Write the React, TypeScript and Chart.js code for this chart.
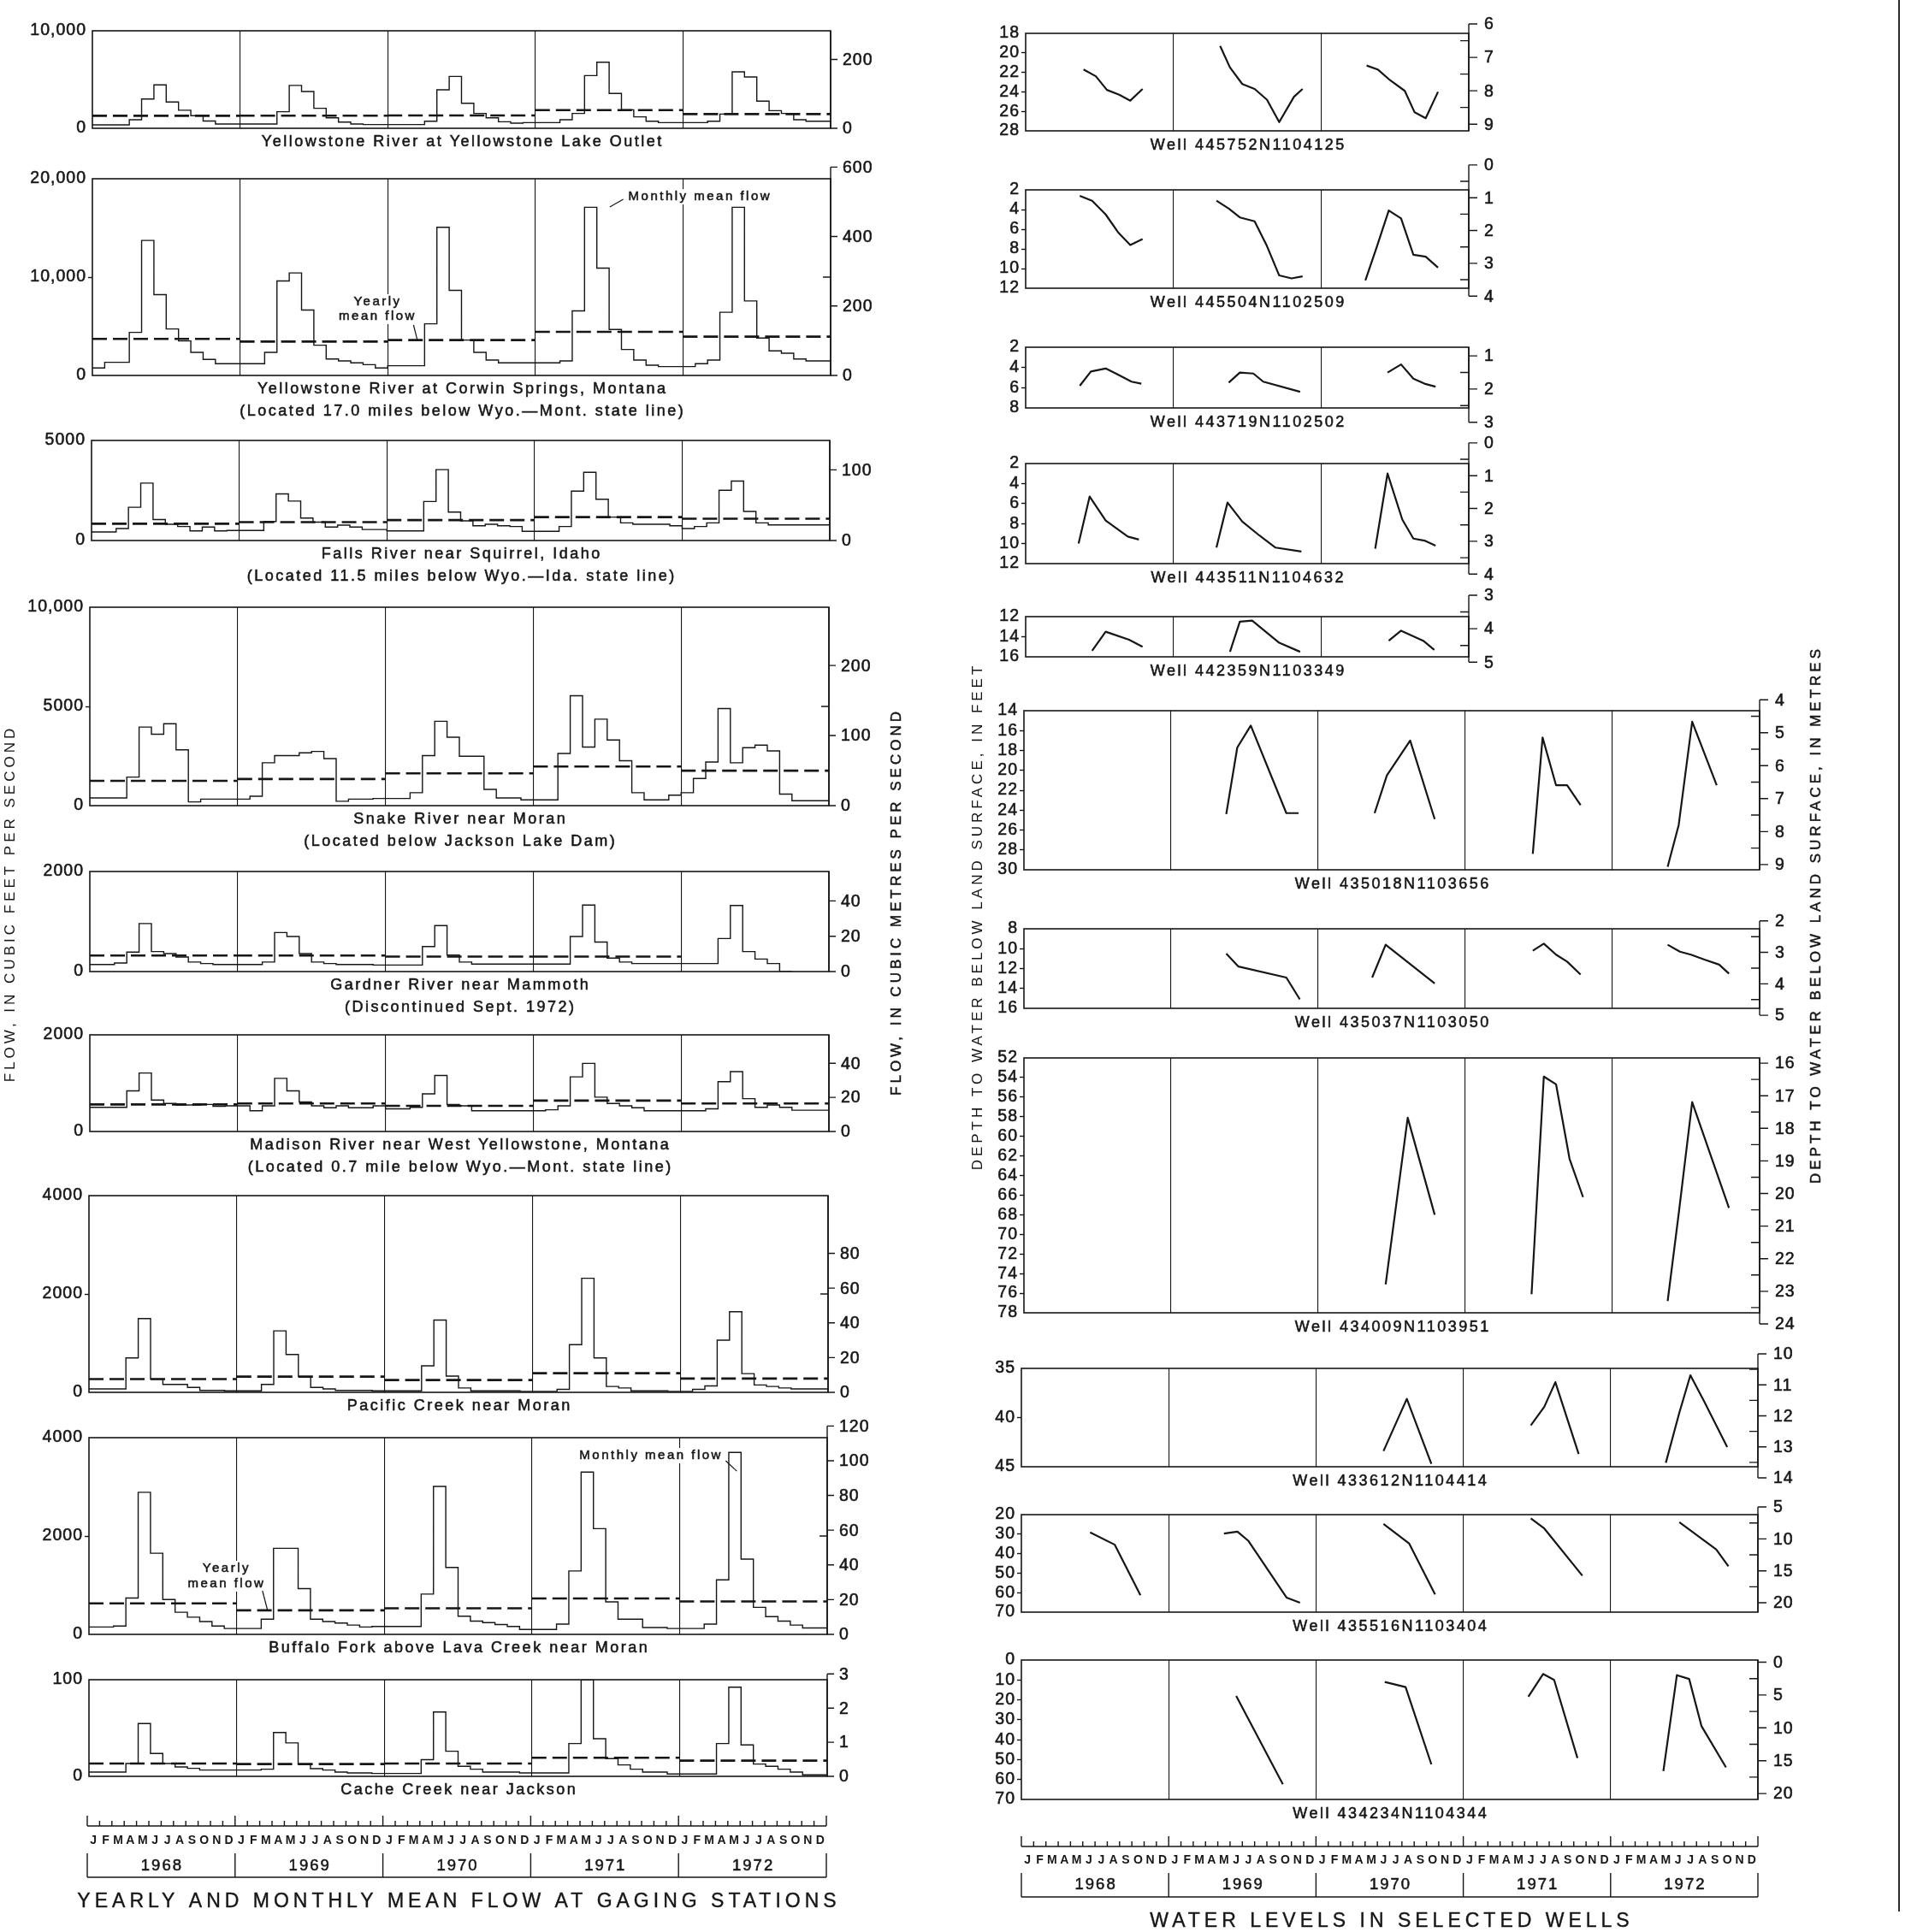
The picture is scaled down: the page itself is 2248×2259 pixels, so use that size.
import React, { useEffect, useMemo, useRef } from 'react';
import { Chart, registerables } from 'chart.js';

Chart.register(...registerables);

const FONT = "'Liberation Sans', Arial, Helvetica, sans-serif";
const NARROW = "'Liberation Sans Narrow', 'Liberation Sans', Arial, sans-serif";
const INK = '#161616';
const STROKE = 0.55;
const CFS_TO_CMS = 0.0283168;
const PAGE_W = 2248;
const PAGE_H = 2259;

Chart.defaults.font.family = FONT;
Chart.defaults.color = INK;

// ---------- axis labels ----------
const MONTH_LETTERS = ['J', 'F', 'M', 'A', 'M', 'J', 'J', 'A', 'S', 'O', 'N', 'D'];
const YEARS = ['1968', '1969', '1970', '1971', '1972'];

// ---------- gaging stations: monthly mean flow (cfs), Jan 1968 - Dec 1972 ----------
const YELLOWSTONE_LAKE_MONTHLY = [
  350, 350, 350, 350, 880, 3000, 4450, 2700, 1850, 1300, 750, 440,
  440, 440, 440, 440, 1700, 4400, 3770, 2050, 1080, 640, 440, 380,
  380, 380, 380, 380, 730, 3950, 5320, 2570, 1520, 1080, 670, 530,
  585, 585, 585, 880, 1520, 5410, 6780, 3570, 1900, 1170, 730, 585,
  585, 585, 585, 730, 1460, 5790, 5260, 2780, 1810, 1520, 880, 730,
];
const YELLOWSTONE_LAKE_YEARLY = [1280, 1300, 1320, 1870, 1460];

const CORWIN_SPRINGS_MONTHLY = [
  760, 760, 1340, 1340, 4380, 13730, 8220, 4730, 3510, 2350, 1630, 1190,
  1190, 1190, 1190, 2350, 9610, 10420, 6650, 3080, 1680, 1480, 1280, 1100,
  760, 990, 990, 990, 5250, 15070, 8650, 3600, 2350, 1570, 1280, 1280,
  1280, 1280, 1280, 1480, 6560, 17100, 10910, 4670, 2640, 1570, 1050, 900,
  900, 900, 1190, 1570, 6420, 17100, 7580, 3800, 2500, 2260, 1680, 1480,
];
const CORWIN_SPRINGS_YEARLY = [3720, 3450, 3600, 4440, 3950];

const FALLS_RIVER_MONTHLY = [
  430, 430, 430, 600, 1660, 2870, 1050, 810, 700, 480, 670, 480,
  500, 500, 500, 950, 2330, 1970, 1120, 920, 670, 770, 670, 550,
  550, 480, 480, 480, 1950, 3540, 1420, 980, 740, 810, 740, 700,
  460, 460, 460, 700, 2470, 3410, 2060, 1170, 880, 810, 810, 810,
  740, 600, 700, 880, 2510, 2970, 1450, 880, 780, 780, 780, 780,
];
const FALLS_RIVER_YEARLY = [840, 920, 1020, 1170, 1090];

const SNAKE_RIVER_MONTHLY = [
  390, 390, 390, 390, 1440, 3960, 3600, 4130, 2810, 190, 330, 330,
  330, 330, 475, 2160, 2520, 2520, 2660, 2730, 2370, 220, 330, 330,
  360, 360, 360, 650, 2520, 4250, 3450, 2490, 2490, 820, 390, 390,
  290, 290, 290, 2630, 5540, 2950, 4360, 3310, 2260, 650, 290, 290,
  530, 650, 1370, 2200, 4890, 2160, 2920, 3050, 2760, 580, 250, 250,
];
const SNAKE_RIVER_YEARLY = [1250, 1340, 1630, 1970, 1760];

const GARDNER_RIVER_MONTHLY = [
  140, 140, 140, 170, 390, 960, 400, 360, 290, 190, 160, 140,
  140, 140, 140, 190, 780, 700, 360, 190, 160, 140, 140, 140,
  130, 130, 130, 130, 500, 920, 330, 190, 150, 150, 150, 150,
  150, 150, 150, 150, 700, 1330, 590, 270, 190, 160, 160, 160,
  160, 160, 160, 160, 660, 1320, 400, 250, 160, null, null, null,
];
const GARDNER_RIVER_YEARLY = [320, 320, 300, 300, null];

const MADISON_RIVER_MONTHLY = [
  500, 500, 500, 500, 840, 1210, 650, 580, 550, 550, 560, 520,
  530, 530, 430, 530, 1100, 840, 610, 530, 490, 530, 490, 490,
  530, 470, 470, 500, 780, 1160, 560, 530, 430, 430, 430, 430,
  430, 430, 450, 530, 1130, 1410, 710, 580, 530, 490, 430, 430,
  430, 430, 430, 470, 1030, 1240, 680, 500, 550, 500, 440, 440,
];
const MADISON_RIVER_YEARLY = [560, 580, 530, 640, 580];

const PACIFIC_CREEK_MONTHLY = [
  70, 70, 70, 70, 700, 1500, 270, 160, 160, 100, 40, 40,
  30, 30, 30, 160, 1250, 770, 320, 100, 70, 40, 40, 40,
  30, 30, 30, 30, 540, 1470, 330, 90, 30, 30, 30, 30,
  20, 20, 20, 60, 970, 2320, 700, 120, 90, 30, 30, 30,
  20, 20, 60, 130, 1060, 1640, 380, 150, 120, 90, 70, 70,
];
const PACIFIC_CREEK_YEARLY = [270, 320, 250, 390, 280];

const BUFFALO_FORK_MONTHLY = [
  150, 150, 150, 170, 740, 2890, 1650, 710, 450, 350, 260, 170,
  120, 120, 120, 310, 1750, 1750, 930, 310, 260, 230, 190, 150,
  160, 160, 160, 160, 820, 3010, 1360, 370, 270, 240, 200, 160,
  100, 100, 100, 210, 1290, 3300, 2150, 660, 310, 310, 140, 140,
  120, 120, 120, 210, 1110, 3700, 1530, 550, 360, 270, 190, 130,
];
const BUFFALO_FORK_YEARLY = [630, 490, 530, 730, 670];

const CACHE_CREEK_MONTHLY = [
  4.4, 4.4, 4.4, 4.4, 13.3, 54.7, 23.7, 13.3, 9.8, 8.3, 6.5, 6.5,
  6.5, 6.5, 6.5, 7.4, 45.3, 34.6, 12.4, 8, 6.5, 4.4, 3.6, 3.6,
  3, 3, 3, 3, 17.2, 66.6, 26, 10.4, 7.4, 4.4, 4.4, 4.4,
  3.6, 3.6, 3.6, 3.6, 34, 100, 39, 18.3, 11.8, 7.4, 4.4, 4.4,
  2.4, 2.4, 2.4, 2.4, 34, 92.3, 32.5, 12.7, 10.4, 7.4, 4.4, 1.5,
];
const CACHE_CREEK_YEARLY = [13.3, 12.7, 13.3, 19.2, 16.3];

// ---------- wells: [month since Jan 1968, depth to water in feet], one list per year ----------
const WELL_445752N1104125 = [
  [[4.7, 21.7], [5.7, 22.4], [6.6, 23.8], [7.6, 24.3], [8.5, 24.9], [9.5, 23.7]],
  [[15.8, 19.3], [16.6, 21.5], [17.6, 23.2], [18.6, 23.7], [19.6, 24.8], [20.6, 27.1], [21.8, 24.5], [22.5, 23.7]],
  [[27.7, 21.3], [28.6, 21.7], [29.6, 22.8], [30.8, 23.9], [31.6, 26.1], [32.5, 26.7], [33.5, 24.0]],
];
const WELL_445504N1102509 = [
  [[4.4, 2.6], [5.4, 3.1], [6.5, 4.5], [7.5, 6.3], [8.5, 7.6], [9.5, 7.0]],
  [[15.5, 3.1], [16.5, 3.9], [17.4, 4.8], [18.6, 5.2], [19.6, 7.7], [20.6, 10.7], [21.6, 11.0], [22.5, 10.8]],
  [[27.6, 11.2], [28.5, 7.9], [29.5, 4.1], [30.5, 4.9], [31.5, 8.6], [32.5, 8.8], [33.5, 9.9]],
];
const WELL_443719N1102502 = [
  [[4.4, 5.8], [5.3, 4.4], [6.5, 4.1], [7.5, 4.7], [8.6, 5.4], [9.4, 5.6]],
  [[16.5, 5.5], [17.4, 4.5], [18.5, 4.6], [19.3, 5.4], [22.3, 6.4]],
  [[29.4, 4.5], [30.5, 3.7], [31.5, 5.1], [32.4, 5.6], [33.3, 5.9]],
];
const WELL_443511N1104632 = [
  [[4.3, 10.0], [5.2, 5.3], [6.5, 7.7], [8.3, 9.3], [9.2, 9.6]],
  [[15.5, 10.4], [16.4, 5.9], [17.6, 7.8], [19.0, 9.2], [20.3, 10.4], [22.4, 10.8]],
  [[28.4, 10.5], [29.4, 3.0], [30.6, 7.6], [31.5, 9.5], [32.4, 9.7], [33.3, 10.2]],
];
const WELL_442359N1103349 = [
  [[5.4, 15.4], [6.5, 13.5], [8.4, 14.3], [9.5, 15.0]],
  [[16.6, 15.5], [17.4, 12.5], [18.4, 12.4], [20.6, 14.6], [22.3, 15.5]],
  [[29.5, 14.4], [30.5, 13.4], [32.3, 14.4], [33.2, 15.3]],
];
const WELL_435018N1103656 = [
  [[16.5, 24.4], [17.4, 17.7], [18.5, 15.5], [21.4, 24.3], [22.4, 24.3]],
  [[28.6, 24.3], [29.6, 20.5], [31.5, 17.0], [33.5, 24.9]],
  [[41.5, 28.4], [42.3, 16.7], [43.4, 21.5], [44.3, 21.5], [45.4, 23.5]],
  [[52.5, 29.7], [53.4, 25.5], [54.5, 15.1], [56.5, 21.5]],
];
const WELL_435037N1103050 = [
  [[16.5, 10.5], [17.5, 11.8], [21.4, 12.9], [22.5, 15.1]],
  [[28.4, 12.9], [29.5, 9.6], [33.5, 13.5]],
  [[41.5, 10.2], [42.4, 9.5], [43.4, 10.6], [44.3, 11.3], [45.4, 12.6]],
  [[52.5, 9.6], [53.5, 10.3], [54.4, 10.6], [55.5, 11.1], [56.7, 11.6], [57.5, 12.5]],
];
const WELL_434009N1103951 = [
  [[29.5, 75.1], [31.3, 58.1], [33.5, 68.0]],
  [[41.4, 76.1], [42.4, 53.9], [43.4, 54.7], [44.5, 62.3], [45.6, 66.2]],
  [[52.5, 76.8], [53.4, 67.9], [54.5, 56.5], [57.5, 67.3]],
];
const WELL_433612N1104414 = [
  [[29.5, 43.4], [31.4, 38.1], [33.4, 44.7]],
  [[41.5, 40.8], [42.6, 38.9], [43.5, 36.4], [45.4, 43.7]],
  [[52.5, 44.6], [53.6, 39.5], [54.5, 35.7], [55.6, 38.3], [57.5, 43.0]],
];
const WELL_435516N1103404 = [
  [[5.6, 29.1], [7.6, 35.4], [9.7, 61.3]],
  [[16.5, 29.7], [17.6, 28.7], [18.5, 33.5], [21.6, 62.5], [22.7, 65.2]],
  [[29.5, 24.8], [31.6, 34.9], [33.7, 60.9]],
  [[41.5, 21.9], [42.6, 27.1], [45.7, 51.3]],
  [[53.6, 23.9], [56.6, 37.8], [57.6, 46.5]],
];
const WELL_434234N1104344 = [
  [[17.5, 18.0], [21.3, 62.4]],
  [[29.6, 11.0], [31.3, 13.6], [33.4, 52.4]],
  [[41.3, 18.4], [42.5, 7.0], [43.4, 10.0], [45.3, 49.2]],
  [[52.3, 55.8], [53.4, 7.6], [54.4, 9.5], [55.4, 33.1], [57.4, 53.9]],
];

// ---------- panel layout tables ----------
const STATIONS: any[] = [
  { title: ['Yellowstone River at Yellowstone Lake Outlet'], monthly: YELLOWSTONE_LAKE_MONTHLY, yearly: YELLOWSTONE_LAKE_YEARLY,
    max: 10000, leftTicks: [0, 10000], rightTicks: [0, 200], mirror: [], left: 108, right: 971, top: 36, bottom: 150 },
  { title: ['Yellowstone River at Corwin Springs, Montana', '(Located 17.0 miles below Wyo.\u2014Mont. state line)'],
    monthly: CORWIN_SPRINGS_MONTHLY, yearly: CORWIN_SPRINGS_YEARLY,
    max: 20000, leftTicks: [0, 10000, 20000], rightTicks: [0, 200, 400, 600], mirror: [10000], left: 108, right: 971, top: 209, bottom: 439,
    notes: [
      { lines: ['Monthly mean flow'], x: 49.3, y: 18170, gap: 17, from: [43.15, 17920], to: [42.05, 17130] },
      { lines: ['Yearly', 'mean flow'], x: 23.1, y: 7480, gap: 17, from: [26.1, 5130], to: [26.4, 3650] },
    ] },
  { title: ['Falls River near Squirrel, Idaho', '(Located 11.5 miles below Wyo.\u2014Ida. state line)'],
    monthly: FALLS_RIVER_MONTHLY, yearly: FALLS_RIVER_YEARLY,
    max: 5000, leftTicks: [0, 5000], rightTicks: [0, 100], mirror: [], left: 107, right: 970, top: 515, bottom: 632 },
  { title: ['Snake River near Moran', '(Located below Jackson Lake Dam)'],
    monthly: SNAKE_RIVER_MONTHLY, yearly: SNAKE_RIVER_YEARLY,
    max: 10000, leftTicks: [0, 5000, 10000], rightTicks: [0, 100, 200], mirror: [5000], left: 105, right: 969, top: 710, bottom: 942 },
  { title: ['Gardner River near Mammoth', '(Discontinued Sept. 1972)'],
    monthly: GARDNER_RIVER_MONTHLY, yearly: GARDNER_RIVER_YEARLY, dropToZero: true,
    max: 2000, leftTicks: [0, 2000], rightTicks: [0, 20, 40], mirror: [], left: 105, right: 969, top: 1019, bottom: 1136 },
  { title: ['Madison River near West Yellowstone, Montana', '(Located 0.7 mile below Wyo.\u2014Mont. state line)'],
    monthly: MADISON_RIVER_MONTHLY, yearly: MADISON_RIVER_YEARLY,
    max: 2000, leftTicks: [0, 2000], rightTicks: [0, 20, 40], mirror: [], left: 105, right: 969, top: 1210, bottom: 1323 },
  { title: ['Pacific Creek near Moran'], monthly: PACIFIC_CREEK_MONTHLY, yearly: PACIFIC_CREEK_YEARLY,
    max: 4000, leftTicks: [0, 2000, 4000], rightTicks: [0, 20, 40, 60, 80], mirror: [2000], left: 104, right: 968, top: 1398, bottom: 1628 },
  { title: ['Buffalo Fork above Lava Creek near Moran'], monthly: BUFFALO_FORK_MONTHLY, yearly: BUFFALO_FORK_YEARLY,
    max: 4000, leftTicks: [0, 2000, 4000], rightTicks: [0, 20, 40, 60, 80, 100, 120], mirror: [2000], left: 104, right: 967, top: 1681, bottom: 1911,
    notes: [
      { lines: ['Monthly mean flow'], x: 45.6, y: 3635, gap: 18, from: [51.75, 3530], to: [52.65, 3320] },
      { lines: ['Yearly', 'mean flow'], x: 11.1, y: 1339, gap: 18, from: [14.1, 887], to: [14.5, 504] },
    ] },
  { title: ['Cache Creek near Jackson'], monthly: CACHE_CREEK_MONTHLY, yearly: CACHE_CREEK_YEARLY,
    max: 100, leftTicks: [0, 100], rightTicks: [0, 1, 2, 3], mirror: [], left: 104, right: 967, top: 1964, bottom: 2077 },
];

const WELLS: any[] = [
  { name: 'Well 445752N1104125', segs: WELL_445752N1104125, years: 3, left: 1199, right: 1717, top: 39, bottom: 153,
    dMin: 18, dMax: 28, dTicks: [18, 20, 22, 24, 26, 28], mMin: 6.28, mMax: 9.2, mMajor: [6, 7, 8, 9], mMinor: [6.5, 7.5, 8.5] },
  { name: 'Well 445504N1102509', segs: WELL_445504N1102509, years: 3, left: 1199, right: 1717, top: 222, bottom: 337,
    dMin: 2, dMax: 12, dTicks: [2, 4, 6, 8, 10, 12], mMin: 0.76, mMax: 3.76, mMajor: [0, 1, 2, 3, 4], mMinor: [0.5, 1.5, 2.5, 3.5] },
  { name: 'Well 443719N1102502', segs: WELL_443719N1102502, years: 3, left: 1199, right: 1717, top: 406, bottom: 477,
    dMin: 2, dMax: 8, dTicks: [2, 4, 6, 8], mMin: 0.74, mMax: 2.57, mMajor: [1, 2, 3], mMinor: [1.5, 2.5] },
  { name: 'Well 443511N1104632', segs: WELL_443511N1104632, years: 3, left: 1199, right: 1717, top: 542, bottom: 659,
    dMin: 2, dMax: 12, dTicks: [2, 4, 6, 8, 10, 12], mMin: 0.63, mMax: 3.68, mMajor: [0, 1, 2, 3, 4], mMinor: [0.5, 1.5, 2.5, 3.5] },
  { name: 'Well 442359N1103349', segs: WELL_442359N1103349, years: 3, left: 1199, right: 1717, top: 721, bottom: 768,
    dMin: 12, dMax: 16, dTicks: [12, 14, 16], mMin: 3.64, mMax: 4.84, mMajor: [3, 4, 5], mMinor: [3.5, 4.5] },
  { name: 'Well 435018N1103656', segs: WELL_435018N1103656, years: 5, left: 1197, right: 2057, top: 831, bottom: 1017,
    dMin: 14, dMax: 30, dTicks: [14, 16, 18, 20, 22, 24, 26, 28, 30], mMin: 4.33, mMax: 9.16, mMajor: [4, 5, 6, 7, 8, 9], mMinor: [4.5, 5.5, 6.5, 7.5, 8.5] },
  { name: 'Well 435037N1103050', segs: WELL_435037N1103050, years: 5, left: 1197, right: 2057, top: 1086, bottom: 1179,
    dMin: 8, dMax: 16, dTicks: [8, 10, 12, 14, 16], mMin: 2.25, mMax: 4.78, mMajor: [2, 3, 4, 5], mMinor: [2.5, 3.5, 4.5] },
  { name: 'Well 434009N1103951', segs: WELL_434009N1103951, years: 5, left: 1197, right: 2057, top: 1237, bottom: 1535,
    dMin: 52, dMax: 78, dTicks: [52, 54, 56, 58, 60, 62, 64, 66, 68, 70, 72, 74, 76, 78], mMin: 15.84, mMax: 23.66,
    mMajor: [16, 17, 18, 19, 20, 21, 22, 23, 24], mMinor: [16.5, 17.5, 18.5, 19.5, 20.5, 21.5, 22.5, 23.5] },
  { name: 'Well 433612N1104414', segs: WELL_433612N1104414, years: 5, left: 1194, right: 2055, top: 1600, bottom: 1715,
    dMin: 35, dMax: 45, dTicks: [35, 40, 45], mMin: 10.47, mMax: 13.64, mMajor: [10, 11, 12, 13, 14], mMinor: [10.5, 11.5, 12.5, 13.5] },
  { name: 'Well 435516N1103404', segs: WELL_435516N1103404, years: 5, left: 1194, right: 2055, top: 1771, bottom: 1885,
    dMin: 20, dMax: 70, dTicks: [20, 30, 40, 50, 60, 70], mMin: 6.2, mMax: 21.47, mMajor: [5, 10, 15, 20], mMinor: [7.5, 12.5, 17.5] },
  { name: 'Well 434234N1104344', segs: WELL_434234N1104344, years: 5, left: 1194, right: 2055, top: 1941, bottom: 2104,
    dMin: 0, dMax: 70, dTicks: [0, 10, 20, 30, 40, 50, 60, 70], mMin: -0.33, mMax: 20.9, mMajor: [0, 5, 10, 15, 20], mMinor: [2.5, 7.5, 12.5, 17.5] },
];

const LEFT_FRAME = {
  canvasLeft: 0, canvasW: 1075, left: 102, right: 966, top: 36, bottom: 2077,
  leftTitle: 'FLOW, IN CUBIC FEET PER SECOND', leftTitlePad: 2,
  rightTitle: 'FLOW, IN CUBIC METRES PER SECOND', rightTitleX: 1048,
  title: 'YEARLY AND MONTHLY MEAN FLOW AT GAGING STATIONS',
  off: { line: 58, letters: 75, boxTop: 90, boxBottom: 118, yearY: 105, title: 147 },
  edgeX: 0,
};
const RIGHT_FRAME = {
  canvasLeft: 1100, canvasW: 1148, left: 1194, right: 2055, top: 39, bottom: 2104,
  leftTitle: 'DEPTH TO WATER BELOW LAND SURFACE, IN FEET', leftTitlePad: 32.8,
  rightTitle: 'DEPTH TO WATER BELOW LAND SURFACE, IN METRES', rightTitleX: 2123,
  title: 'WATER LEVELS IN SELECTED WELLS',
  off: { line: 55, letters: 71, boxTop: 86, boxBottom: 114, yearY: 100, title: 143 },
  edgeX: 2220,
};

// ---------- helpers ----------
function spacedText(ctx: any, text: string, x: number, y: number, font: string, spacing: number, align = 'center', stroke = STROKE) {
  ctx.save();
  ctx.font = font;
  ctx.letterSpacing = spacing + 'px';
  ctx.textAlign = align;
  ctx.textBaseline = 'middle';
  ctx.fillStyle = INK;
  const dx = align === 'center' ? spacing / 2 : align === 'right' ? spacing : 0;
  ctx.fillText(text, x + dx, y);
  if (stroke > 0) {
    ctx.strokeStyle = INK;
    ctx.lineWidth = stroke;
    ctx.strokeText(text, x + dx, y);
  }
  ctx.restore();
}

function stepPoints(monthly: (number | null)[], dropToZero: boolean) {
  const pts: any[] = [];
  let last = -1;
  monthly.forEach((v, i) => {
    if (v != null) { pts.push({ x: i, y: v }); last = i; }
  });
  pts.push({ x: last + 1, y: dropToZero ? 0 : monthly[last] });
  return pts;
}

function meanPoints(yearly: (number | null)[]) {
  const pts: any[] = [];
  yearly.forEach((m, k) => {
    if (m == null) return;
    pts.push({ x: k * 12, y: m }, { x: k * 12 + 12, y: m }, { x: k * 12 + 12, y: null });
  });
  return pts;
}

function wellPoints(segs: number[][][]) {
  const pts: any[] = [];
  segs.forEach((seg) => {
    seg.forEach(([x, y]) => pts.push({ x, y }));
    pts.push({ x: seg[seg.length - 1][0], y: null });
  });
  return pts;
}

function fmtCfs(v: number) {
  return v >= 10000 ? v.toLocaleString('en-US') : String(v);
}

function xYearScale(months: number) {
  const bounds: number[] = [];
  for (let m = 12; m < months; m += 12) bounds.push(m);
  return {
    type: 'linear', min: 0, max: months, display: true,
    afterBuildTicks: (s: any) => { s.ticks = bounds.map((v) => ({ value: v })); },
    afterFit: (s: any) => { s.height = 0; },
    ticks: { display: false },
    grid: { display: true, drawOnChartArea: true, drawTicks: false, color: INK, lineWidth: 1.1 },
    border: { display: false },
  };
}

function leftScale(width: number, min: number, max: number, ticks: number[], reverse: boolean, fmt: (v: number) => string) {
  return {
    type: 'linear', position: 'left', min, max, reverse,
    afterBuildTicks: (s: any) => { s.ticks = ticks.map((v) => ({ value: v })); },
    afterFit: (s: any) => { s.width = width; },
    ticks: {
      display: true, autoSkip: false, padding: 2, color: INK, font: { family: FONT, size: 19.5 },
      textStrokeColor: INK, textStrokeWidth: STROKE,
      callback: (v: any) => fmt(Number(v)),
    },
    grid: {
      display: true, drawOnChartArea: false, drawTicks: true, tickLength: 5, tickWidth: 1.4,
      color: (c: any) => (c.tick && (c.tick.value === min || c.tick.value === max) ? 'rgba(0,0,0,0)' : INK),
    },
    border: { display: false },
  };
}

function spacingPlugin(px: number) {
  return { id: 'spacing', beforeDraw(chart: any) { chart.ctx.letterSpacing = px + 'px'; } };
}

function boxPlugin() {
  return {
    id: 'box',
    afterDraw(chart: any) {
      const { ctx, chartArea: a } = chart;
      ctx.save();
      ctx.strokeStyle = INK;
      ctx.lineWidth = 1.6;
      ctx.strokeRect(a.left, a.top, a.right - a.left, a.bottom - a.top);
      ctx.restore();
    },
  };
}

function rightAxisPlugin(major: number[], minor: number[], mirror: number[], tickLen: number, labelDx: number) {
  return {
    id: 'raxis',
    afterDraw(chart: any) {
      const { ctx, chartArea: a } = chart;
      const s = chart.scales.yR;
      const x0 = a.right;
      const ys = major.map((v) => s.getPixelForValue(v));
      const top = Math.min(a.top, ...ys);
      const bot = Math.max(a.bottom, ...ys);
      ctx.save();
      ctx.strokeStyle = INK;
      ctx.lineWidth = 1.4;
      ctx.beginPath();
      ctx.moveTo(x0, top);
      ctx.lineTo(x0, bot);
      ys.forEach((y) => { ctx.moveTo(x0, y); ctx.lineTo(x0 + tickLen, y); });
      minor.forEach((v) => { const y = s.getPixelForValue(v); ctx.moveTo(x0 - tickLen, y); ctx.lineTo(x0, y); });
      mirror.forEach((v) => { const y = chart.scales.y.getPixelForValue(v); ctx.moveTo(x0 - 9, y); ctx.lineTo(x0, y); });
      ctx.stroke();
      ctx.restore();
      major.forEach((v, i) => spacedText(ctx, String(v), x0 + labelDx, ys[i] + 1, `19.5px ${FONT}`, 1, 'left'));
    },
  };
}

function titlePlugin(lines: string[], firstDy: number, gap: number) {
  return {
    id: 'ptitle',
    afterDraw(chart: any) {
      const { ctx, chartArea: a } = chart;
      const cx = (a.left + a.right) / 2;
      lines.forEach((t, i) => spacedText(ctx, t, cx, a.bottom + firstDy + i * gap, `18px ${FONT}`, 2.5));
    },
  };
}

function notesPlugin(notes: any[]) {
  return {
    id: 'notes',
    afterDraw(chart: any) {
      const { ctx } = chart;
      const xs = chart.scales.x;
      const ys = chart.scales.y;
      notes.forEach((n) => {
        const cx = xs.getPixelForValue(n.x);
        const cy = ys.getPixelForValue(n.y);
        ctx.save();
        ctx.font = `15px ${FONT}`;
        ctx.letterSpacing = '2.5px';
        n.lines.forEach((t: string, i: number) => {
          const w = ctx.measureText(t).width;
          ctx.fillStyle = '#ffffff';
          ctx.fillRect(cx - w / 2 - 2, cy + i * n.gap - 9, w + 4, 18);
        });
        ctx.restore();
        n.lines.forEach((t: string, i: number) => spacedText(ctx, t, cx, cy + i * n.gap, `15px ${FONT}`, 2.5));
        ctx.save();
        ctx.strokeStyle = INK;
        ctx.lineWidth = 1.2;
        ctx.beginPath();
        ctx.moveTo(xs.getPixelForValue(n.from[0]), ys.getPixelForValue(n.from[1]));
        ctx.lineTo(xs.getPixelForValue(n.to[0]), ys.getPixelForValue(n.to[1]));
        ctx.stroke();
        ctx.restore();
      });
    },
  };
}

const BASE_OPTS = {
  responsive: false,
  animation: false,
  devicePixelRatio: 1,
  events: [],
};
const NO_PLUGINS = { legend: { display: false }, tooltip: { enabled: false }, title: { display: false } };

// ---------- specs ----------
const PANEL_PAD_TOP = 40;
function gagingSpec(st: any) {
  const boxH = st.bottom - st.top;
  const bottomSpace = 24 + st.title.length * 26;
  const padRight = 92;
  const width = st.right + padRight;
  const height = PANEL_PAD_TOP + boxH + bottomSpace;
  const config = {
    type: 'line',
    data: {
      datasets: [
        { data: stepPoints(st.monthly, !!st.dropToZero), stepped: 'after', borderColor: INK, borderWidth: 1.4,
          pointRadius: 0, fill: false, spanGaps: false, borderJoinStyle: 'miter' },
        { data: meanPoints(st.yearly), borderColor: INK, borderWidth: 2.6, borderDash: [17, 7],
          pointRadius: 0, fill: false, spanGaps: false, borderCapStyle: 'butt' },
      ],
    },
    options: {
      ...BASE_OPTS,
      layout: { padding: { top: PANEL_PAD_TOP, right: padRight, bottom: bottomSpace, left: 0 } },
      plugins: NO_PLUGINS,
      scales: {
        x: xYearScale(60),
        y: leftScale(st.left, 0, st.max, st.leftTicks, false, fmtCfs),
        yR: { type: 'linear', display: false, position: 'right', min: 0, max: st.max * CFS_TO_CMS },
      },
    },
    plugins: [
      spacingPlugin(1),
      boxPlugin(),
      rightAxisPlugin(st.rightTicks, [], st.mirror, 8, 14),
      titlePlugin(st.title, 16, 26),
      notesPlugin(st.notes || []),
    ],
  };
  return { left: 0, top: st.top - PANEL_PAD_TOP, width, height, config };
}

const WELL_PAD_TOP = 45;
function wellSpec(w: any) {
  const canvasLeft = 1100;
  const boxH = w.bottom - w.top;
  const padRight = 62;
  const bottomSpace = 42;
  const width = w.right - canvasLeft + padRight;
  const height = WELL_PAD_TOP + boxH + bottomSpace;
  const config = {
    type: 'line',
    data: {
      datasets: [
        { data: wellPoints(w.segs), borderColor: INK, borderWidth: 2.2, pointRadius: 0, fill: false,
          spanGaps: false, tension: 0, borderJoinStyle: 'round' },
      ],
    },
    options: {
      ...BASE_OPTS,
      layout: { padding: { top: WELL_PAD_TOP, right: padRight, bottom: bottomSpace, left: 0 } },
      plugins: NO_PLUGINS,
      scales: {
        x: xYearScale(w.years * 12),
        y: leftScale(w.left - canvasLeft, w.dMin, w.dMax, w.dTicks, true, (v) => String(v)),
        yR: { type: 'linear', display: false, position: 'right', min: w.mMin, max: w.mMax, reverse: true },
      },
    },
    plugins: [
      spacingPlugin(1),
      boxPlugin(),
      rightAxisPlugin(w.mMajor, w.mMinor, [], 10, 18),
      titlePlugin([w.name], 17, 26),
    ],
  };
  return { left: canvasLeft, top: w.top - WELL_PAD_TOP, width, height, config };
}

function framePlugin(fr: any) {
  return {
    id: 'frame',
    afterDraw(chart: any) {
      const { ctx, chartArea: a } = chart;
      const xs = chart.scales.x;
      const B = a.bottom;
      const o = fr.off;
      const px = (m: number) => xs.getPixelForValue(m);
      const yl = B + o.line;
      ctx.save();
      ctx.strokeStyle = INK;
      ctx.lineWidth = 1.4;
      ctx.beginPath();
      ctx.moveTo(px(0), yl);
      ctx.lineTo(px(60), yl);
      for (let m = 0; m <= 60; m++) {
        ctx.moveTo(px(m), yl);
        ctx.lineTo(px(m), yl - (m % 12 === 0 ? 12 : 6));
      }
      for (let k = 0; k <= 5; k++) {
        ctx.moveTo(px(k * 12), B + o.boxTop);
        ctx.lineTo(px(k * 12), B + o.boxBottom);
      }
      ctx.moveTo(px(0), B + o.boxBottom);
      ctx.lineTo(px(60), B + o.boxBottom);
      ctx.stroke();
      ctx.restore();
      for (let m = 0; m < 60; m++) {
        spacedText(ctx, MONTH_LETTERS[m % 12], px(m + 0.5), B + o.letters, `bold 14px ${NARROW}`, 0, 'center', 0);
      }
      YEARS.forEach((y, k) => spacedText(ctx, y, px(k * 12 + 6), B + o.yearY, `18.5px ${FONT}`, 2));
      spacedText(ctx, fr.title, (a.left + a.right) / 2, B + o.title, `23px ${FONT}`, 5, 'center', 0.4);
      ctx.save();
      ctx.translate(fr.rightTitleX - fr.canvasLeft, (a.top + a.bottom) / 2);
      ctx.rotate(-Math.PI / 2);
      spacedText(ctx, fr.rightTitle, 0, 0, `17px ${FONT}`, 4, 'center', 0.5);
      ctx.restore();
      if (fr.edgeX) {
        ctx.save();
        ctx.strokeStyle = '#2a2a2a';
        ctx.lineWidth = 2;
        ctx.beginPath();
        ctx.moveTo(fr.edgeX - fr.canvasLeft, 0);
        ctx.lineTo(fr.edgeX - fr.canvasLeft, 2235);
        ctx.stroke();
        ctx.restore();
      }
    },
  };
}

function frameSpec(fr: any) {
  const width = fr.canvasW;
  const config = {
    type: 'line',
    data: { datasets: [] },
    options: {
      ...BASE_OPTS,
      layout: { padding: { top: fr.top, right: fr.canvasLeft + width - fr.right, bottom: 0, left: 0 } },
      plugins: NO_PLUGINS,
      scales: {
        x: { type: 'linear', min: 0, max: 60, display: true, ticks: { display: false }, grid: { display: false },
             border: { display: false }, afterFit: (s: any) => { s.height = PAGE_H - fr.bottom; } },
        y: { type: 'linear', position: 'left', min: 0, max: 1, display: true, ticks: { display: false },
             grid: { display: false }, border: { display: false },
             title: { display: true, text: fr.leftTitle, color: INK, font: { family: FONT, size: 17, lineHeight: 1.2 },
                      padding: { top: fr.leftTitlePad, bottom: 0 } },
             afterFit: (s: any) => { s.width = fr.left - fr.canvasLeft; } },
      },
    },
    plugins: [spacingPlugin(4), framePlugin(fr)],
  };
  return { left: fr.canvasLeft, top: 0, width, height: PAGE_H, config };
}

// ---------- components ----------
function ChartBox({ spec }: { spec: any }) {
  const ref = useRef<HTMLCanvasElement | null>(null);
  useEffect(() => {
    if (!ref.current) return;
    const chart = new Chart(ref.current, spec.config as any);
    return () => chart.destroy();
  }, [spec]);
  return (
    <canvas
      ref={ref}
      width={spec.width}
      height={spec.height}
      style={{ position: 'absolute', left: spec.left, top: spec.top, width: spec.width, height: spec.height }}
    />
  );
}

export default function App() {
  const specs = useMemo(
    () => [frameSpec(LEFT_FRAME), frameSpec(RIGHT_FRAME), ...STATIONS.map(gagingSpec), ...WELLS.map(wellSpec)],
    []
  );
  return (
    <div style={{ position: 'absolute', left: 0, top: 0, width: PAGE_W, height: PAGE_H, background: '#ffffff', overflow: 'hidden' }}>
      {specs.map((s, i) => <ChartBox key={i} spec={s} />)}
    </div>
  );
}
